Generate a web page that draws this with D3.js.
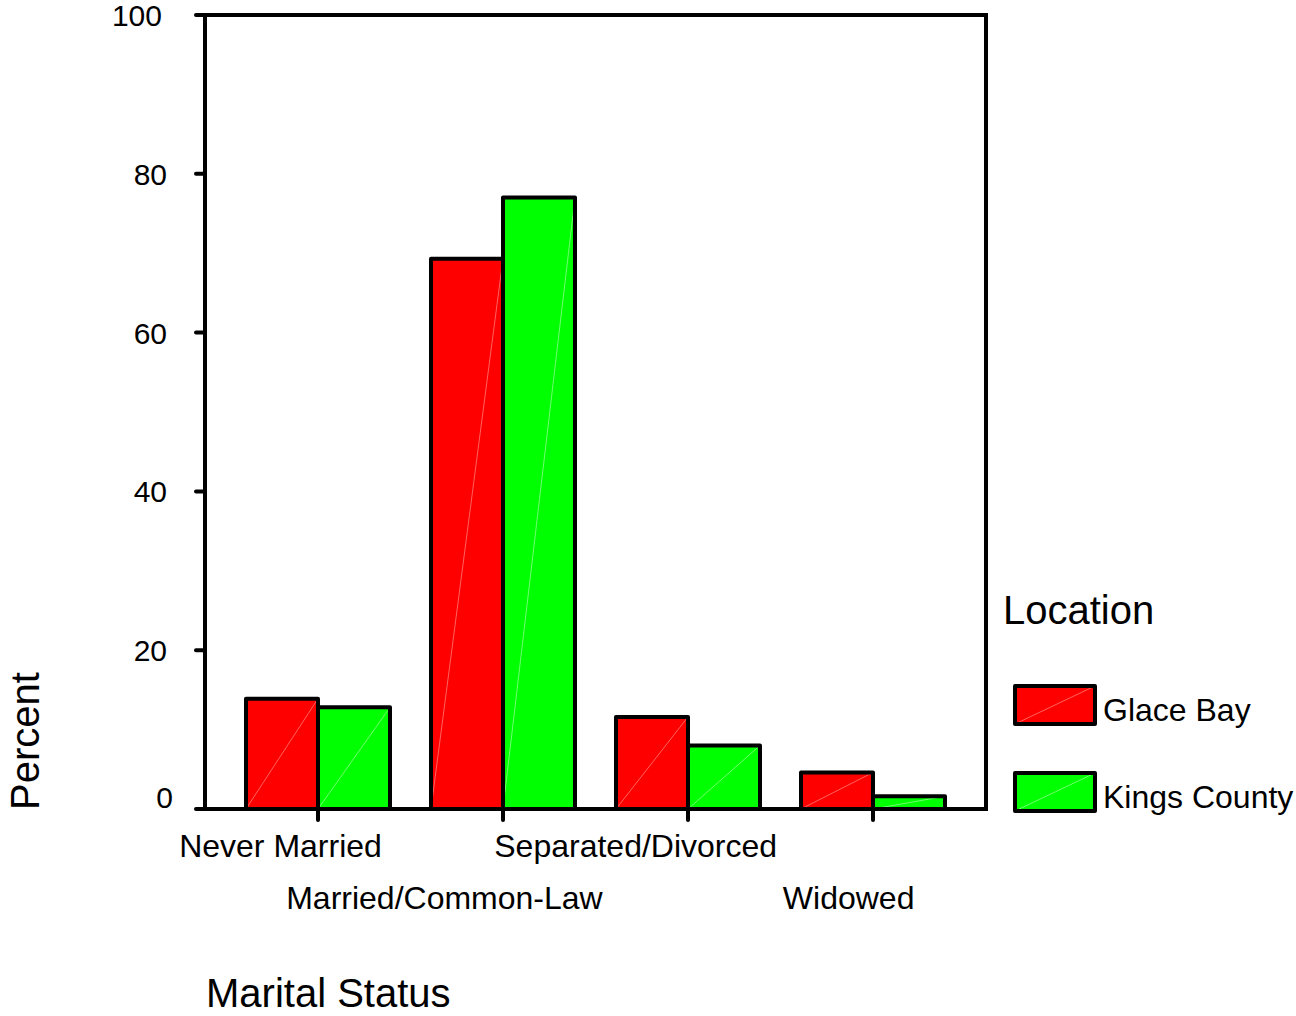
<!DOCTYPE html>
<html>
<head>
<meta charset="utf-8">
<script src="https://cdn.jsdelivr.net/npm/d3@7"></script>
<style>
  html, body { margin: 0; padding: 0; background: #fff; }
  svg { display: block; }
  text { font-family: "Liberation Sans", Arial, Helvetica, sans-serif; fill: #000; }
</style>
</head>
<body>
<svg id="chart" width="1296" height="1016"></svg>
<script>
// ---- data ----
const categories = ["Never Married", "Married/Common-Law", "Separated/Divorced", "Widowed"];
const seriesNames = ["Glace Bay", "Kings County"];
const glaceBay = [13.9, 69.3, 11.6, 4.6];
const kingsCounty = [12.8, 77.0, 8.0, 1.6];
const yTicks = [0, 20, 40, 60, 80, 100];
const colors = ["#ff0000", "#00ff00"];
const stripeColors = ["#ff7a7a", "#8cff8c"];
const legendTitle = "Location";
const xTitle = "Marital Status";
const yTitle = "Percent";

const series = [glaceBay, kingsCounty];

const svg = d3.select("#chart");
const plot = { left: 205, right: 986, top: 15, bottom: 809 };

const y = d3.scaleLinear().domain([0, 100]).range([plot.bottom, plot.top]);
const x0 = d3.scaleBand().domain(categories)
  .range([plot.left, plot.right])
  .paddingInner(0.2216).paddingOuter(0.2216);
const x1 = d3.scaleBand().domain(seriesNames).range([0, x0.bandwidth()]).padding(0);

// bars
const groups = svg.append("g").selectAll("g")
  .data(categories)
  .join("g")
  .attr("transform", d => `translate(${x0(d)},0)`);

groups.each(function(cat, ci) {
  const g = d3.select(this);
  seriesNames.forEach((s, si) => {
    const v = series[si][ci];
    const bx = x1(s), bw = x1.bandwidth();
    const by = y(v), bh = y(0) - y(v);
    g.append("rect")
      .attr("x", bx).attr("y", by).attr("width", bw).attr("height", bh)
      .attr("fill", colors[si]);
    g.append("line")
      .attr("x1", bx).attr("y1", y(0)).attr("x2", bx + bw).attr("y2", by)
      .attr("stroke", stripeColors[si]).attr("stroke-width", 0.8);
    g.append("rect")
      .attr("x", bx).attr("y", by).attr("width", bw).attr("height", bh)
      .attr("fill", "none").attr("stroke", "#000").attr("stroke-width", 4)
      .attr("stroke-linejoin", "round");
  });
});

// frame
svg.append("rect")
  .attr("x", plot.left).attr("y", plot.top)
  .attr("width", plot.right - plot.left).attr("height", plot.bottom - plot.top)
  .attr("fill", "none").attr("stroke", "#000").attr("stroke-width", 4);

// y ticks
const yAxisG = svg.append("g");
yAxisG.selectAll("line").data(yTicks).join("line")
  .attr("x1", plot.left - 9).attr("x2", plot.left)
  .attr("y1", d => y(d)).attr("y2", d => y(d))
  .attr("stroke", "#000").attr("stroke-width", 4).attr("stroke-linecap", "round");
yAxisG.selectAll("text").data(yTicks).join("text")
  .attr("text-anchor", "end")
  .attr("x", d => d === 0 ? 173 : (d === 100 ? 162 : 167))
  .attr("y", d => d === 0 ? y(d) - 1 : y(d) + 11)
  .attr("font-size", 30)
  .text(d => d);

// x ticks
const xAxisG = svg.append("g");
xAxisG.selectAll("line").data(categories).join("line")
  .attr("x1", d => x0(d) + x0.bandwidth() / 2).attr("x2", d => x0(d) + x0.bandwidth() / 2)
  .attr("y1", plot.bottom).attr("y2", plot.bottom + 11)
  .attr("stroke", "#000").attr("stroke-width", 4).attr("stroke-linecap", "round");
xAxisG.selectAll("text").data(categories).join("text")
  .attr("font-size", 32)
  .attr("y", (d, i) => i % 2 === 0 ? 857 : 909)
  .text(d => d)
  .attr("x", function(d) {
    const len = this.getComputedTextLength();
    return x0(d) + x0.bandwidth() / 2 - 0.685 * len;
  });

// axis titles
svg.append("text").attr("x", 206).attr("y", 1007).attr("font-size", 40).text(xTitle);
svg.append("text")
  .attr("transform", "translate(39,810) rotate(-90)")
  .attr("font-size", 40).text(yTitle);

// legend
const legend = svg.append("g");
legend.append("text").attr("x", 1003).attr("y", 624).attr("font-size", 40).text(legendTitle);
const legendY = d3.scalePoint().domain(seriesNames).range([705, 792]);
seriesNames.forEach((s, si) => {
  const cy = legendY(s);
  const lx = 1015, lw = 80, lh = 38, ly = cy - lh / 2;
  legend.append("rect").attr("x", lx).attr("y", ly).attr("width", lw).attr("height", lh)
    .attr("fill", colors[si]);
  legend.append("line").attr("x1", lx).attr("y1", ly + lh).attr("x2", lx + lw).attr("y2", ly)
    .attr("stroke", stripeColors[si]).attr("stroke-width", 0.8);
  legend.append("rect").attr("x", lx).attr("y", ly).attr("width", lw).attr("height", lh)
    .attr("fill", "none").attr("stroke", "#000").attr("stroke-width", 4).attr("stroke-linejoin", "round");
  legend.append("text").attr("x", 1103).attr("y", cy + 16).attr("font-size", 32).text(s);
});
</script>
</body>
</html>
